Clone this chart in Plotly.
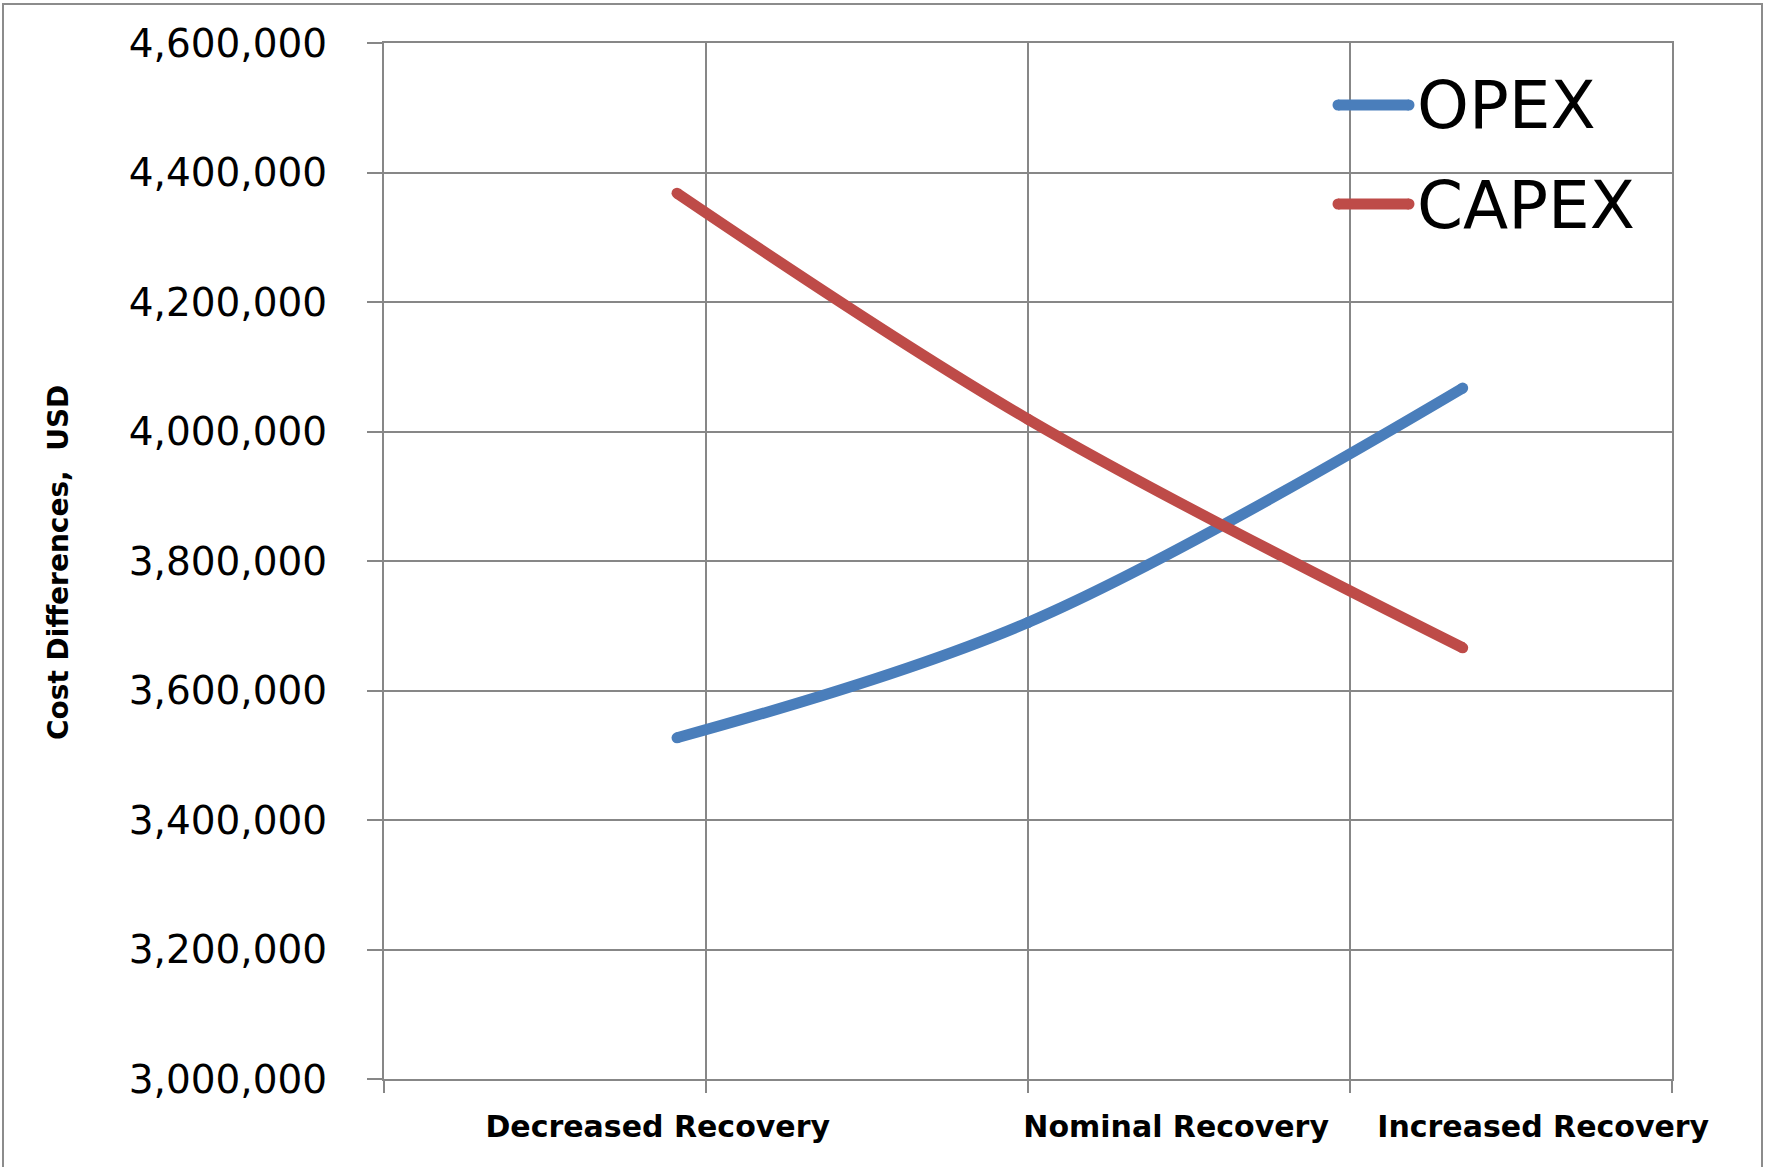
import plotly.graph_objects as go

# Recovery scenarios and where each one sits on the horizontal scale
categories = ["Decreased Recovery", "Nominal Recovery", "Increased Recovery"]
category_label_pos = [0.85, 2.46, 3.60]
scenario_x = [0.91, 2.0, 3.35]

# Cost differences per scenario, USD
opex = [3527000, 3705000, 4067000]
capex = [4368000, 4019000, 3666000]

y_ticks = [3000000, 3200000, 3400000, 3600000, 3800000, 4000000, 4200000, 4400000, 4600000]
x_grid = [0, 1, 2, 3, 4]

series_names = ["OPEX", "CAPEX"]
series_colors = ["#4A7EBB", "#BE4B48"]
GRID = "#878787"

W, H = 1767, 1167
L, R, T, B = 384, 95, 43, 88

fig = go.Figure()
for name, vals, col in zip(series_names, [opex, capex], series_colors):
    fig.add_trace(go.Scatter(
        x=scenario_x, y=vals, name=name,
        mode="lines+markers",
        line=dict(color=col, width=11, shape="spline", smoothing=1.0),
        marker=dict(color=col, size=11, line=dict(width=0)),
        showlegend=False,
    ))

fig.update_layout(
    width=W, height=H,
    margin=dict(l=L, r=R, t=T, b=B),
    paper_bgcolor="white", plot_bgcolor="white",
    font=dict(family="DejaVu Sans", color="black"),
)

fig.update_xaxes(
    range=[0, 4],
    tickvals=category_label_pos, ticktext=categories,
    ticks="", showgrid=False, zeroline=False,
    showline=True, linecolor=GRID, linewidth=2, mirror=True,
    tickfont=dict(family="DejaVu Sans", size=30, color="black", weight="bold"),
    ticklabelstandoff=20,
    minor=dict(tickvals=x_grid, showgrid=True, gridcolor=GRID, gridwidth=2,
               ticks="outside", ticklen=12, tickcolor=GRID, tickwidth=2),
)

fig.update_yaxes(
    range=[3000000, 4600000],
    tickvals=y_ticks, tickformat=",d",
    showgrid=True, gridcolor=GRID, gridwidth=2, zeroline=False,
    showline=True, linecolor=GRID, linewidth=2, mirror=True,
    ticks="outside", ticklen=15, tickcolor=GRID, tickwidth=2,
    tickfont=dict(family="DejaVu Sans", size=39, color="black"),
    ticklabelstandoff=32,
)

pw = W - L - R
ph = H - T - B


def px_to_paper(px, py):
    return (px - L) / pw, (H - B - py) / ph


# Axis title
tx, ty = px_to_paper(58, 563)
fig.add_annotation(
    x=tx, y=ty, xref="paper", yref="paper",
    text="<b>Cost Differences,\u00a0 USD</b>", textangle=-90,
    showarrow=False, xanchor="center", yanchor="middle",
    font=dict(family="DejaVu Sans", size=28, color="black"),
)

# Legend keys drawn in the top-right corner of the plot area
for i, (name, col) in enumerate(zip(series_names, series_colors)):
    ly = 105 + i * 99
    x0, y0 = px_to_paper(1338, ly)
    x1, _ = px_to_paper(1409, ly)
    fig.add_shape(type="line", xref="paper", yref="paper",
                  x0=x0, x1=x1, y0=y0, y1=y0,
                  line=dict(color=col, width=11))
    for xx in (x0, x1):
        fig.add_trace(go.Scatter(
            x=[xx], y=[y0], xaxis="x2", yaxis="y2", mode="markers",
            marker=dict(color=col, size=11), showlegend=False, hoverinfo="skip",
        ))
    ax, ay = px_to_paper(1415, ly + 2 - (2 if i == 0 else 0))
    fig.add_annotation(
        x=ax, y=ay, xref="paper", yref="paper", text=name,
        showarrow=False, xanchor="left", yanchor="middle",
        font=dict(family="DejaVu Sans", size=66, color="black"),
    )

# Overlay axes in paper units for the legend key end caps
fig.update_layout(
    xaxis2=dict(overlaying="x", range=[0, 1], visible=False, domain=[0, 1]),
    yaxis2=dict(overlaying="y", range=[0, 1], visible=False),
)

# Outer chart border
bx0, by0 = px_to_paper(3, 4)
bx1, by1 = px_to_paper(1762, 1180)
fig.add_shape(type="rect", xref="paper", yref="paper",
              x0=bx0, x1=bx1, y0=by1, y1=by0,
              line=dict(color="#8C8C8C", width=2), layer="below")

fig.write_html("out.html")
